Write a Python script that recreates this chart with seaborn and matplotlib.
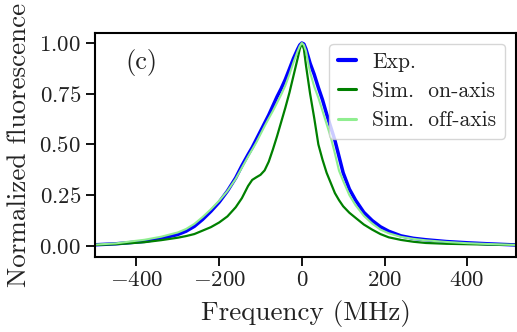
import numpy as np
import pandas as pd
import matplotlib
matplotlib.use("Agg")
import matplotlib.pyplot as plt
import seaborn as sns

# frequency grid (MHz) and normalized fluorescence
freq = [-500, -450, -420, -380, -340, -300, -280, -260, -240, -220, -200, -180,
        -160, -145, -130, -120, -110, -100, -90, -80, -70, -60, -50, -40, -30,
        -20, -10, -5, 0, 5, 10, 20, 30, 40, 50, 60, 70, 80, 90, 100, 115, 130,
        150, 170, 190, 210, 240, 270, 300, 350, 400, 450, 520]

exp_vals = [0.005, 0.010, 0.015, 0.022, 0.036, 0.056, 0.072, 0.096, 0.13, 0.17,
            0.215, 0.27, 0.335, 0.395, 0.45, 0.485, 0.525, 0.565, 0.605, 0.645,
            0.69, 0.735, 0.775, 0.82, 0.872, 0.925, 0.97, 0.99, 1.00, 0.995,
            0.97, 0.90, 0.845, 0.78, 0.72, 0.65, 0.585, 0.52, 0.44, 0.36, 0.28,
            0.225, 0.165, 0.125, 0.094, 0.072, 0.049, 0.037, 0.030, 0.021, 0.015,
            0.010, 0.004]

on_axis = [0.004, 0.008, 0.012, 0.018, 0.028, 0.040, 0.048, 0.058, 0.075, 0.092,
           0.115, 0.145, 0.19, 0.235, 0.295, 0.325, 0.338, 0.35, 0.372, 0.415,
           0.475, 0.54, 0.61, 0.68, 0.755, 0.84, 0.925, 0.97, 1.00, 0.97, 0.89,
           0.75, 0.63, 0.50, 0.425, 0.36, 0.31, 0.26, 0.225, 0.195, 0.163, 0.138,
           0.105, 0.08, 0.058, 0.042, 0.029, 0.020, 0.014, 0.010, 0.008, 0.006,
           0.004]

off_axis = [0.006, 0.012, 0.020, 0.030, 0.045, 0.066, 0.083, 0.108, 0.142, 0.18,
            0.222, 0.27, 0.33, 0.385, 0.44, 0.475, 0.51, 0.55, 0.59, 0.628, 0.665,
            0.705, 0.745, 0.79, 0.845, 0.905, 0.96, 0.985, 1.00, 0.99, 0.96,
            0.855, 0.785, 0.73, 0.665, 0.60, 0.535, 0.455, 0.37, 0.32, 0.25, 0.20,
            0.148, 0.11, 0.08, 0.062, 0.044, 0.034, 0.027, 0.019, 0.013, 0.009,
            0.004]

labels = ["Exp.", "Sim.  on-axis", "Sim.  off-axis"]
colors = {"Exp.": "blue", "Sim.  on-axis": "green", "Sim.  off-axis": "lightgreen"}
widths = {"Exp.": 2.5, "Sim.  on-axis": 1.6, "Sim.  off-axis": 1.5}

df = pd.DataFrame({
    "freq": freq * 3,
    "fluo": exp_vals + on_axis + off_axis,
    "series": [l for l in labels for _ in freq],
})

sns.set_theme(style="ticks")
plt.rcParams["font.family"] = "cmr10"
plt.rcParams["mathtext.fontset"] = "cm"
plt.rcParams["axes.formatter.use_mathtext"] = True
plt.rcParams["axes.unicode_minus"] = True

fig = plt.figure(figsize=(5.17, 3.32), dpi=100)
ax = fig.add_axes([0.184, 0.226, 0.814, 0.675])

for lab in labels:
    sub = df[df["series"] == lab]
    sns.lineplot(data=sub, x="freq", y="fluo", color=colors[lab],
                 linewidth=widths[lab], label=lab, ax=ax)

ax.set_xlim(-500, 518)
ax.set_ylim(-0.055, 1.05)
ax.set_xticks([-400, -200, 0, 200, 400])
ax.set_yticks([0, 0.25, 0.5, 0.75, 1.0])
ax.yaxis.set_major_formatter(matplotlib.ticker.FormatStrFormatter(r"$\mathdefault{%.2f}$"))
ax.set_xlabel("Frequency (MHz)", fontsize=19.5, color="#222222", labelpad=7)
ax.set_ylabel("Normalized fluorescence", fontsize=19.5, color="#222222", labelpad=6)
ax.tick_params(labelsize=16.5, length=6.5, width=1.3, direction="out",
               colors="black", labelcolor="#222222")
for s in ax.spines.values():
    s.set_linewidth(1.5)
    s.set_color("black")

ax.text(0.073, 0.87, "(c)", transform=ax.transAxes, fontsize=19,
        va="center", ha="left", color="#222222")

leg = ax.legend(loc="upper right", fontsize=15.5, handlelength=0.85,
                handletextpad=0.75, borderaxespad=0.5, frameon=True,
                fancybox=True, framealpha=0.8, edgecolor="0.8",
                labelspacing=0.45)
for line in leg.get_lines():
    line.set_linewidth(2.2)
leg.get_lines()[0].set_linewidth(3)
for t in leg.get_texts():
    t.set_color("#222222")

fig.savefig("out.png", dpi=100)
